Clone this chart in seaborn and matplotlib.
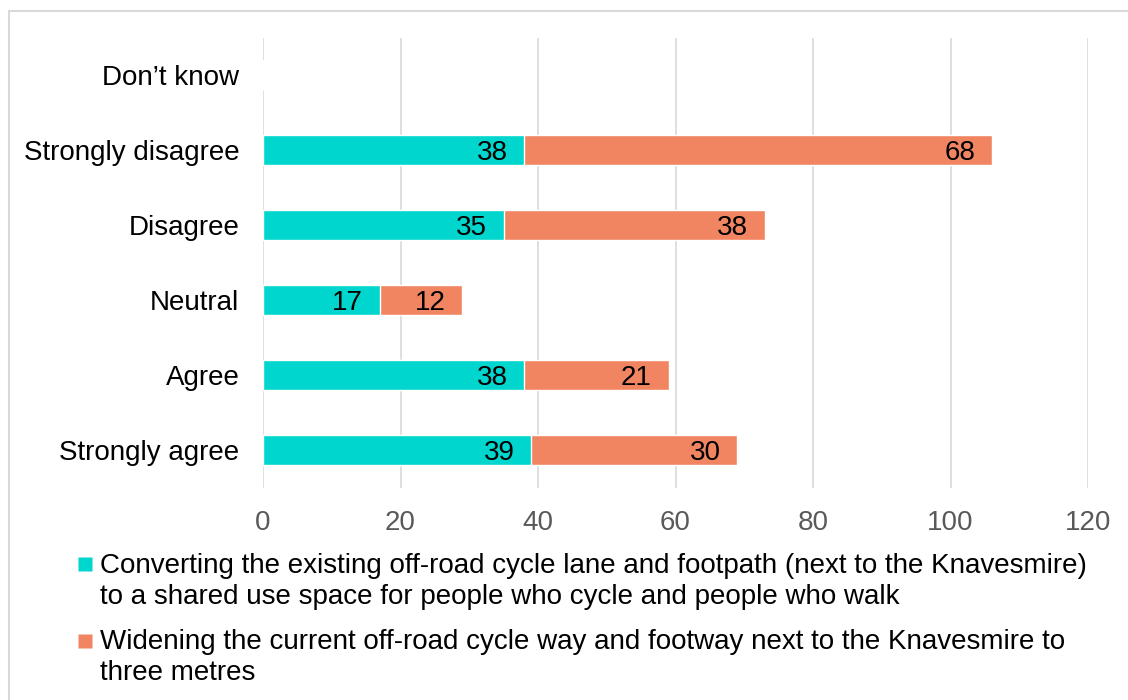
import numpy as np
import pandas as pd
import matplotlib.pyplot as plt
import seaborn as sns
from matplotlib.lines import Line2D
from matplotlib.patches import Rectangle

# data
categories = ["Don\u2019t know", "Strongly disagree", "Disagree", "Neutral", "Agree", "Strongly agree"]
converting = [0, 38, 35, 17, 38, 39]
widening = [0, 68, 38, 12, 21, 30]
series_names = [
    "Converting the existing off-road cycle lane and footpath (next to the Knavesmire)\nto a shared use space for people who cycle and people who walk",
    "Widening the current off-road cycle way and footway next to the Knavesmire to\nthree metres",
]
teal = "#00D6CD"
orange = "#F28561"

df = pd.DataFrame({"category": categories, "converting": converting, "widening": widening})
df["total"] = df["converting"] + df["widening"]

sns.set_style("white")
plt.rcParams["font.family"] = ["Liberation Sans", "DejaVu Sans"]

fig = plt.figure(figsize=(11.28, 7), dpi=100)
W, H = 1128, 700
ax = fig.add_axes([263 / W, 1 - 487.5 / H, (1088 - 263) / W, 450 / H])

# stacked: total first (orange), teal over it
sns.barplot(data=df, y="category", x="total", color=orange, width=0.4,
            orient="h", ax=ax, saturation=1, zorder=3)
sns.barplot(data=df, y="category", x="converting", color=teal, width=0.4,
            orient="h", ax=ax, saturation=1, zorder=4)

tot_bars = ax.containers[0]
conv_bars = ax.containers[1]
for cont, vals in [(conv_bars, converting), (tot_bars, widening)]:
    anns = ax.bar_label(cont, labels=[str(v) if v else "" for v in vals],
                        label_type="edge", padding=-12, fontsize=20, color="black", zorder=5)
    for a in anns:
        a.set_ha("right")
        a.set_va("center_baseline")

ax.set_xlim(0, 120)
ax.set_xticks(np.arange(0, 121, 20))
ax.set_ylim(5.5, -0.5)
ax.set_xlabel("")
ax.set_ylabel("")
ax.grid(axis="x", color="#D9D9D9", linewidth=1.2, zorder=0)
ax.grid(axis="y", visible=False)
for s in ax.spines.values():
    s.set_visible(False)
ax.tick_params(axis="x", length=0, pad=16, labelsize=20, labelcolor="#595959")
ax.tick_params(axis="y", length=0, pad=17, labelsize=20, labelcolor="black")

handles = [Line2D([], [], marker="s", linestyle="none", markersize=10,
                  markerfacecolor=c, markeredgecolor="none") for c in (teal, orange)]
leg = fig.legend(handles, series_names, loc="upper left",
                 bbox_to_anchor=(78 / W, 1 - 553 / H), frameon=False, fontsize=20,
                 handlelength=0.5, handleheight=1.07, handletextpad=0.29,
                 labelspacing=0.7, borderaxespad=0, borderpad=0)
for t in leg.get_texts():
    t.set_linespacing(1.24)
    t.set_color("black")
# align each square with the first line of its label
for col in leg._legend_handle_box.get_children():
    for row in col.get_children():
        row.align = "top"

# outer light border (chart is cropped on right/bottom)
fig.patches.append(Rectangle((9 / W, -0.1), 1.2, 1 - 11 / H + 0.1, transform=fig.transFigure,
                             fill=False, edgecolor="#D9D9D9", linewidth=1.5))

fig.savefig("out.png", dpi=100)
